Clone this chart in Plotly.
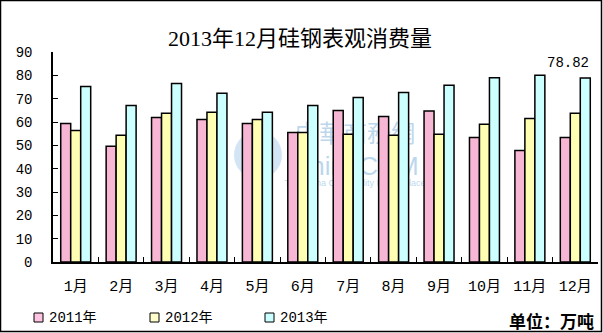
import plotly.graph_objects as go

# Monthly apparent consumption of silicon steel (10k tonnes)
months = ["1月", "2月", "3月", "4月", "5月", "6月", "7月", "8月", "9月", "10月", "11月", "12月"]
series_names = ["2011年", "2012年", "2013年"]
v2011 = [59.4, 49.6, 61.9, 61.1, 59.4, 55.5, 64.9, 62.4, 64.7, 53.4, 47.8, 53.4]
v2012 = [56.4, 54.3, 63.8, 64.2, 61.1, 55.5, 54.7, 54.3, 54.7, 59.0, 61.5, 63.8]
v2013 = [75.2, 67.1, 76.5, 72.3, 64.2, 67.1, 70.5, 72.6, 75.8, 79.0, 80.0, 78.82]
y_ticks = [0, 10, 20, 30, 40, 50, 60, 70, 80, 90]

bar_colors = ["#F8B6D5", "#FFFFB4", "#CCFFFF"]
key_colors = ["#FFC4E1", "#FFFFCC", "#CCFFFF"]

W, H = 603, 333
L, R, T, B = 53, 5, 52, 71
PW, PH = W - L - R, H - T - B


def px(x):
    return (x - L) / PW


def py(y):
    return (H - B - y) / PH


MONO = "Liberation Mono, Noto Sans CJK SC"
CJK = "Noto Sans CJK SC"

fig = go.Figure()
for name, vals, col in zip(series_names, [v2011, v2012, v2013], bar_colors):
    fig.add_trace(go.Bar(
        x=months, y=vals, name=name,
        marker=dict(color=col, line=dict(color="black", width=1.5)),
        showlegend=False,
    ))

shapes = [
    # outer frame
    dict(type="rect", xref="paper", yref="paper",
         x0=px(0.5), x1=px(W - 1.5), y0=py(H - 1.5), y1=py(0.5),
         line=dict(color="black", width=1.5), fillcolor="rgba(0,0,0,0)"),
    # faint watermark logo
    dict(type="circle", xref="paper", yref="paper", layer="below",
         x0=px(234), x1=px(282), y0=py(179), y1=py(131),
         line=dict(width=0), fillcolor="rgba(175,208,235,0.55)"),
    dict(type="rect", xref="paper", yref="paper", layer="below",
         x0=px(290), x1=px(420), y0=py(148), y1=py(122),
         line=dict(width=0), fillcolor="rgba(0,0,0,0)",
         label=dict(text="中華商務網", font=dict(family=CJK, size=24, color="rgba(170,205,232,0.8)"))),
    dict(type="rect", xref="paper", yref="paper", layer="below",
         x0=px(290), x1=px(420), y0=py(176), y1=py(152),
         line=dict(width=0), fillcolor="rgba(0,0,0,0)",
         label=dict(text="ChinaCCM", font=dict(family="Liberation Sans", size=26, color="rgba(170,205,232,0.8)"))),
    dict(type="rect", xref="paper", yref="paper", layer="below",
         x0=px(290), x1=px(420), y0=py(188), y1=py(176),
         line=dict(width=0), fillcolor="rgba(0,0,0,0)",
         label=dict(text="The China Commodity Marketplace", font=dict(family="Liberation Sans", size=9, color="rgba(170,205,232,0.8)"))),
]

annotations = [
    dict(text="2013年12月硅钢表观消费量", xref="paper", yref="paper",
         x=px(300), y=py(38), xanchor="center", yanchor="middle", showarrow=False,
         font=dict(family="Liberation Serif, " + CJK, size=22, color="black")),
    dict(text="单位：万吨", xref="paper", yref="paper",
         x=px(596), y=py(320), xanchor="right", yanchor="middle", showarrow=False,
         font=dict(family=CJK, size=17, color="black", weight="bold")),
    # value callout for the last 2013 bar
    dict(text=f"{v2013[-1]:.2f}", x=months[-1], y=v2013[-1], xref="x", yref="y",
         xanchor="center", yanchor="bottom", xshift=-7, yshift=5, showarrow=False,
         font=dict(family=MONO, size=14, color="black")),
]

# series key along the bottom edge
key_left = [34, 150, 265]
for name, col, x0 in zip(series_names, key_colors, key_left):
    shapes.append(dict(type="rect", xref="paper", yref="paper",
                       x0=px(x0), x1=px(x0 + 9), y0=py(322), y1=py(313),
                       line=dict(color="black", width=1), fillcolor=col))
    annotations.append(dict(text=name, xref="paper", yref="paper",
                            x=px(x0 + 13), y=py(318), xanchor="left", yanchor="middle",
                            showarrow=False, font=dict(family=MONO, size=14, color="black")))

fig.update_layout(
    width=W, height=H,
    margin=dict(l=L, r=R, t=T, b=B),
    paper_bgcolor="white", plot_bgcolor="white",
    barmode="group", bargap=0.34, bargroupgap=0,
    shapes=shapes, annotations=annotations,
)
fig.update_xaxes(
    type="category", showline=True, linecolor="black", linewidth=1.5,
    ticks="inside", tickson="boundaries", ticklen=5, tickcolor="black", tickwidth=1,
    showgrid=False, ticklabelstandoff=9,
    tickfont=dict(family=MONO, size=15, color="black"),
)
fig.update_yaxes(
    range=[0, 90], tickvals=y_ticks, showline=True, linecolor="black", linewidth=1.5,
    ticks="inside", ticklen=5, tickcolor="black", tickwidth=1,
    showgrid=False, zeroline=False, ticklabelstandoff=16,
    tickfont=dict(family=MONO, size=14, color="black"),
)

fig.write_html("out.html")
